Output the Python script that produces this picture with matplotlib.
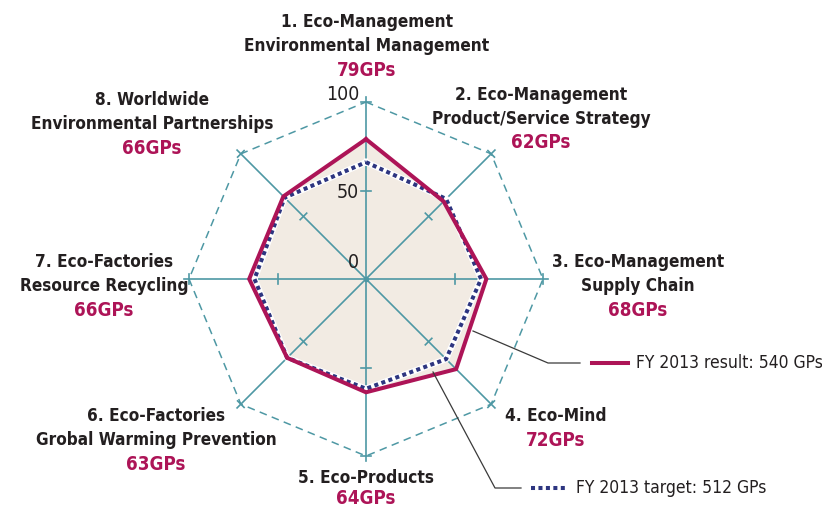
import numpy as np
import matplotlib
matplotlib.use("Agg")
import matplotlib.pyplot as plt

categories = [
    ("1. Eco-Management", "Environmental Management"),
    ("2. Eco-Management", "Product/Service Strategy"),
    ("3. Eco-Management", "Supply Chain"),
    ("4. Eco-Mind",),
    ("5. Eco-Products",),
    ("6. Eco-Factories", "Grobal Warming Prevention"),
    ("7. Eco-Factories", "Resource Recycling"),
    ("8. Worldwide", "Environmental Partnerships"),
]
result = [79, 62, 68, 72, 64, 63, 66, 66]
target = [66, 64, 65, 64, 62, 63, 63, 65]
gp_labels = ["79GPs", "62GPs", "68GPs", "72GPs", "64GPs", "63GPs", "66GPs", "66GPs"]
r_ticks = [0, 50, 100]
legend_result = "FY 2013 result: 540 GPs"
legend_target = "FY 2013 target: 512 GPs"

W, H = 822, 509
fig = plt.figure(figsize=(W / 100, H / 100), dpi=100)
ax = fig.add_axes([0, 0, 1, 1])
cx, cy, s = 366, 279, 1.77  # pixel centre, px per unit
ax.set_xlim(-cx / s, (W - cx) / s)
ax.set_ylim(-(H - cy) / s, cy / s)
ax.axis("off")

def P(px, py):
    return ((px - cx) / s, (cy - py) / s)

n = len(categories)
theta = np.arange(n) * 2 * np.pi / n

def xy(r):
    r = np.asarray(r, float)
    return r * np.sin(theta), r * np.cos(theta)

teal = "#4e98a4"
red = "#ad1457"
navy = "#2d3580"
txt = "#231f20"

# result fill
rx, ry = xy(result)
ax.fill(rx, ry, color="#f2ebe3", zorder=1, lw=0)

# outer dashed octagon
ox, oy = xy([100] * n)
ax.plot(np.append(ox, ox[0]), np.append(oy, oy[0]), color=teal, lw=1.1,
        ls=(0, (5, 3.5)), zorder=2)

# axes lines and ticks
for t in theta:
    ax.plot([0, 103 * np.sin(t)], [0, 103 * np.cos(t)], color=teal, lw=1.2, zorder=2)
    for rv in r_ticks[1:]:
        px, py = rv * np.sin(t), rv * np.cos(t)
        dx, dy = np.cos(t) * 2.6, -np.sin(t) * 2.6
        ax.plot([px - dx, px + dx], [py - dy, py + dy], color=teal, lw=1.2, zorder=2)
ax.plot([0], [0], "o", color=teal, ms=3, zorder=3)

# target (dotted) and result lines
tx, ty = xy(target)
ax.plot(np.append(tx, tx[0]), np.append(ty, ty[0]), color="white", lw=4.5, zorder=3,
        solid_joinstyle="miter")
ax.plot(np.append(tx, tx[0]), np.append(ty, ty[0]), color=navy, lw=2.9,
        ls=(0, (1.0, 0.85)), zorder=4)
ax.plot(np.append(rx, rx[0]), np.append(ry, ry[0]), color=red, lw=2.9, zorder=5,
        solid_joinstyle="miter")

# radial tick labels
for rv, py in zip(r_ticks, [263, 192, 94]):
    x, y = P(359, py)
    ax.text(x, y, str(rv), ha="right", va="center", fontsize=14, color=txt,
            fontstretch="condensed", zorder=6)

# category labels (pixel anchor of first line centre)
anchors = [(367, 22), (541, 95), (638, 262), (556, 416), (366, 478),
           (156, 416), (104, 262), (152, 100)]
lh = 24
fk = dict(fontweight="semibold", fontstretch="condensed", ha="center",
          va="center", zorder=6)
for lines, gp, (ax_px, ay_px) in zip(categories, gp_labels, anchors):
    for i, line in enumerate(lines):
        x, y = P(ax_px, ay_px + i * lh)
        ax.text(x, y, line, color=txt, fontsize=12.3, **fk)
    x, y = P(ax_px, min(ay_px + len(lines) * lh, 499))
    ax.text(x, y, gp, color=red, fontsize=13.5, **fk)

# legend with leader lines
gray = "#3a3a3a"
a = P(473, 331); b = P(548, 363); c = P(580, 363)
ax.plot([a[0], b[0], c[0]], [a[1], b[1], c[1]], color=gray, lw=0.9, zorder=6)
l1 = P(592, 363); l2 = P(628, 363)
ax.plot([l1[0], l2[0]], [l1[1], l2[1]], color=red, lw=2.9, zorder=6)
x, y = P(636, 363)
ax.text(x, y, legend_result, ha="left", va="center", fontsize=12.5, color=txt,
        fontstretch="condensed", zorder=6)

a = P(433, 372); b = P(495, 488); c = P(521, 488)
ax.plot([a[0], b[0], c[0]], [a[1], b[1], c[1]], color=gray, lw=0.9, zorder=6)
l1 = P(531, 488); l2 = P(567, 488)
ax.plot([l1[0], l2[0]], [l1[1], l2[1]], color=navy, lw=2.9, ls=(0, (1.0, 0.85)), zorder=6)
x, y = P(576, 488)
ax.text(x, y, legend_target, ha="left", va="center", fontsize=12.5, color=txt,
        fontstretch="condensed", zorder=6)

fig.savefig("out.png", dpi=100, facecolor="white")
